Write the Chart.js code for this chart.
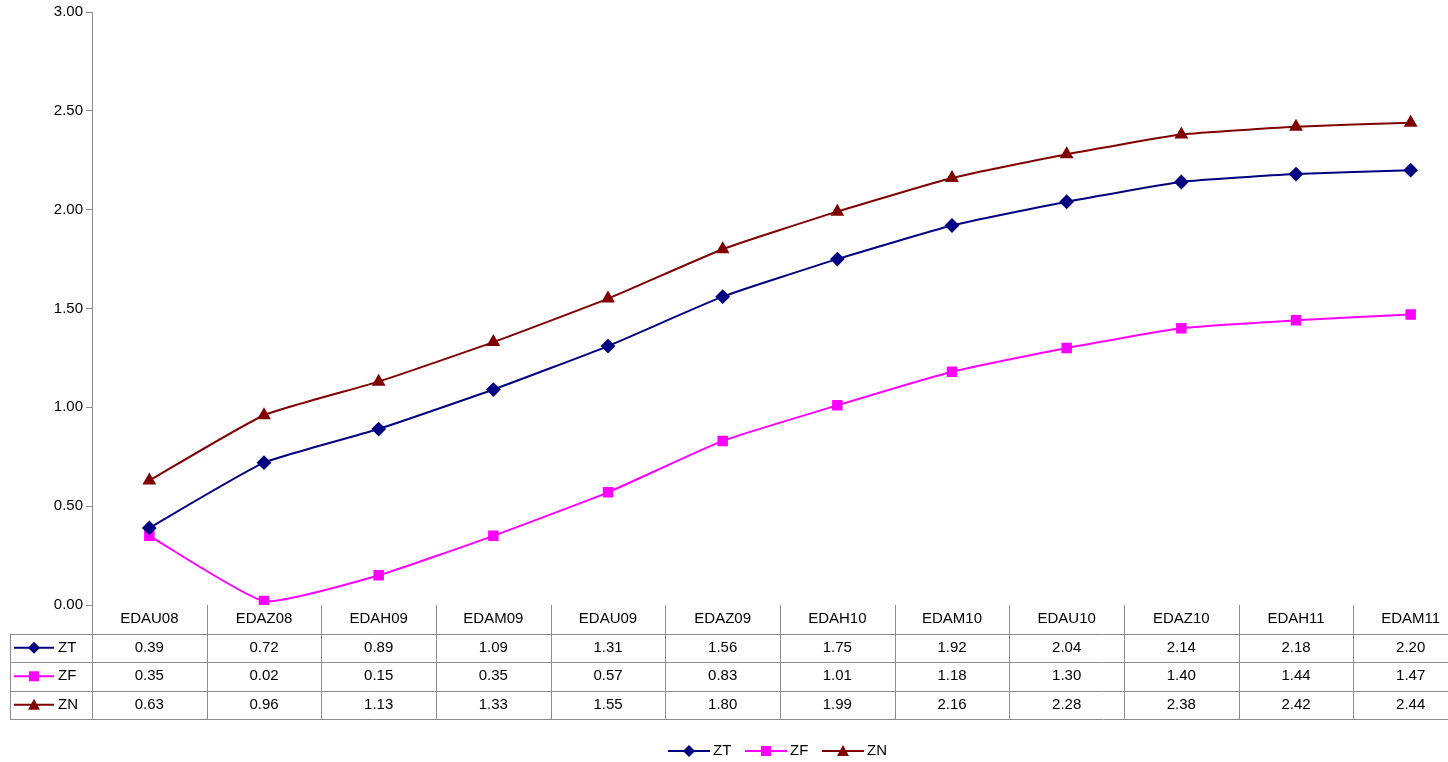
<!DOCTYPE html>
<html>
<head>
<meta charset="utf-8">
<script src="https://cdn.jsdelivr.net/npm/chart.js@4"></script>
<style>
  html, body { margin: 0; padding: 0; background: #fff; overflow: hidden; }
  #wrap { width: 1448px; height: 762px; overflow: hidden; }
</style>
</head>
<body>
<div id="wrap"><canvas id="chart" width="1476" height="762"></canvas></div>
<script>
// categories and series
var categories = ['EDAU08', 'EDAZ08', 'EDAH09', 'EDAM09', 'EDAU09', 'EDAZ09', 'EDAH10', 'EDAM10', 'EDAU10', 'EDAZ10', 'EDAH11', 'EDAM11'];
var zt = [0.39, 0.72, 0.89, 1.09, 1.31, 1.56, 1.75, 1.92, 2.04, 2.14, 2.18, 2.20];
var zf = [0.35, 0.02, 0.15, 0.35, 0.57, 0.83, 1.01, 1.18, 1.30, 1.40, 1.44, 1.47];
var zn = [0.63, 0.96, 1.13, 1.33, 1.55, 1.80, 1.99, 2.16, 2.28, 2.38, 2.42, 2.44];
var seriesNames = ['ZT', 'ZF', 'ZN'];
var seriesColors = ['#000080', '#FF00FF', '#800000'];
var seriesPoints = ['rectRot', 'rect', 'triangle'];

var FONT = '15px "Liberation Sans", Arial, sans-serif';
var ROW_H = 28.5;

// draws a small marker like the ones on the lines
function drawMarker(ctx, style, x, y, color) {
  ctx.save();
  ctx.fillStyle = color;
  ctx.beginPath();
  if (style === 'rectRot') {
    ctx.moveTo(x, y - 6); ctx.lineTo(x + 6, y); ctx.lineTo(x, y + 6); ctx.lineTo(x - 6, y);
  } else if (style === 'rect') {
    ctx.rect(x - 5, y - 5, 10, 10);
  } else {
    ctx.moveTo(x, y - 6); ctx.lineTo(x + 6, y + 5); ctx.lineTo(x - 6, y + 5);
  }
  ctx.closePath();
  ctx.fill();
  ctx.restore();
}

// data table under the plot plus the legend
var tablePlugin = {
  id: 'dataTable',
  afterDraw: function(chart) {
    var ctx = chart.ctx;
    var xs = chart.scales.x;
    var area = chart.chartArea;
    var top = area.bottom;
    var step = xs.getPixelForValue(1) - xs.getPixelForValue(0);
    var rows = [zt, zf, zn];
    var bottom = top + ROW_H * 4;

    ctx.save();
    ctx.strokeStyle = '#8c8c8c';
    ctx.lineWidth = 1;
    ctx.beginPath();
    for (var r = 1; r <= 4; r++) {
      var y = Math.round(top + ROW_H * r) + 0.5;
      ctx.moveTo(10, y); ctx.lineTo(area.right, y);
    }
    for (var i = 0; i <= categories.length; i++) {
      var x = Math.round(area.left + step * i) + 0.5;
      ctx.moveTo(x, top); ctx.lineTo(x, bottom);
    }
    ctx.moveTo(10.5, top + ROW_H); ctx.lineTo(10.5, bottom);
    ctx.stroke();

    ctx.font = FONT;
    ctx.fillStyle = '#000';
    ctx.textAlign = 'center';
    ctx.textBaseline = 'middle';
    categories.forEach(function(c, i) {
      var cx = xs.getPixelForValue(i);
      ctx.fillText(c, cx, top + ROW_H / 2);
      rows.forEach(function(vals, r) {
        ctx.fillText(vals[i].toFixed(2), cx, top + ROW_H * (r + 1.5));
      });
    });

    rows.forEach(function(vals, r) {
      var y = top + ROW_H * (r + 1.5);
      ctx.strokeStyle = seriesColors[r];
      ctx.lineWidth = 2;
      ctx.beginPath(); ctx.moveTo(14, y); ctx.lineTo(54, y); ctx.stroke();
      drawMarker(ctx, seriesPoints[r], 34, y, seriesColors[r]);
      ctx.fillStyle = '#000';
      ctx.textAlign = 'left';
      ctx.fillText(seriesNames[r], 58, y);
    });

    var lx = 668, ly = 751;
    seriesNames.forEach(function(name, r) {
      ctx.strokeStyle = seriesColors[r];
      ctx.lineWidth = 2;
      ctx.beginPath(); ctx.moveTo(lx, ly); ctx.lineTo(lx + 42, ly); ctx.stroke();
      drawMarker(ctx, seriesPoints[r], lx + 21, ly, seriesColors[r]);
      ctx.fillStyle = '#000';
      ctx.textAlign = 'left';
      ctx.fillText(name, lx + 45, ly);
      lx += 77;
    });
    ctx.restore();
  }
};

function makeSet(i, data) {
  return {
    label: seriesNames[i],
    data: data,
    borderColor: seriesColors[i],
    backgroundColor: seriesColors[i],
    borderWidth: 2,
    pointStyle: seriesPoints[i],
    pointRadius: 6,
    tension: 0.15
  };
}

new Chart(document.getElementById('chart'), {
  type: 'line',
  data: {
    labels: categories,
    datasets: [makeSet(0, zt), makeSet(1, zf), makeSet(2, zn)]
  },
  options: {
    responsive: false,
    animation: false,
    layout: { padding: { top: 10, right: 0, bottom: 157, left: 0 } },
    plugins: { legend: { display: false }, tooltip: { enabled: false } },
    scales: {
      x: { display: false, offset: true },
      y: {
        min: 0, max: 3,
        afterFit: function(scale) { scale.width = 92; },
        ticks: {
          stepSize: 0.5,
          color: '#000',
          font: { family: '"Liberation Sans", Arial, sans-serif', size: 15 },
          callback: function(v) { return v.toFixed(2); }
        },
        grid: { drawOnChartArea: false, tickLength: 6, color: '#8c8c8c' },
        border: { color: '#8c8c8c' }
      }
    }
  },
  plugins: [tablePlugin]
});
</script>
</body>
</html>
